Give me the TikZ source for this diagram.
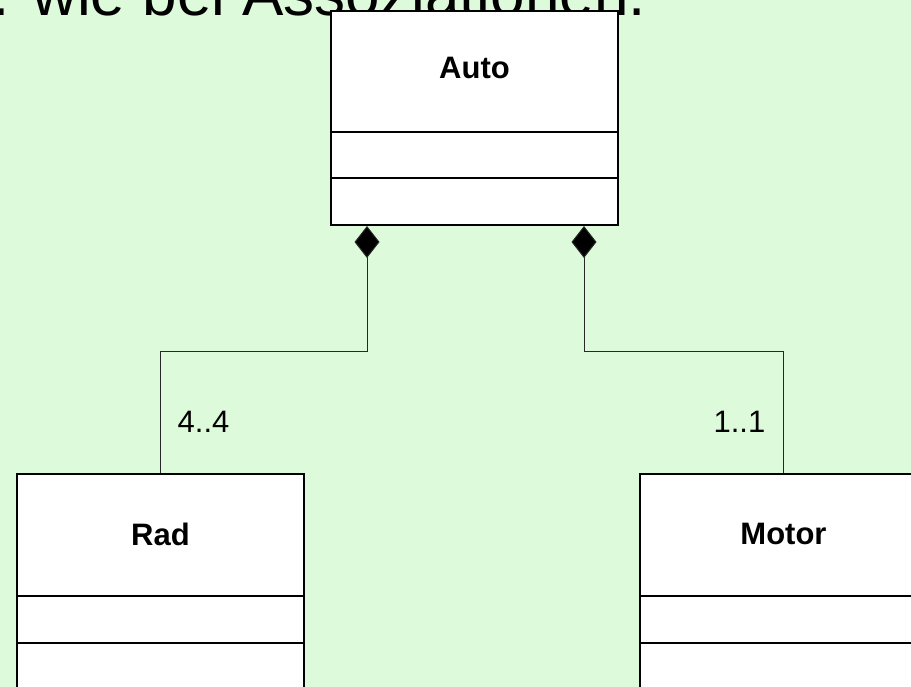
\documentclass[tikz,border=0pt]{standalone}
\usepackage{fontspec}
\setmainfont{Liberation Sans}
\usetikzlibrary{arrows.meta}
\definecolor{bggreen}{RGB}{221,251,219}
\definecolor{connline}{RGB}{40,40,40}
\tikzset{
  classbox/.style={draw=black, line width=2pt, fill=white, minimum width=287pt, inner sep=0pt, anchor=north west},
  classname/.style={font=\bfseries\fontsize{31}{31}\selectfont, inner sep=0pt},
  divider/.style={draw=black, line width=2pt},
  conn/.style={draw=connline, line width=1pt},
  compo/.style={conn, {Diamond[length=32pt,width=25pt,fill=black]}-},
  mult/.style={font=\fontsize{31}{31}\selectfont, inner sep=0pt},
  title/.style={font=\fontsize{62}{62}\selectfont, inner sep=0pt, anchor=base west}
}
\begin{document}
\begin{tikzpicture}[x=1pt,y=-1pt]
\clip (0,0) rectangle (911,687);
\fill[bggreen] (0,0) rectangle (911,687);
\node[title] (head) at (-8,16) {. wie bei Assoziationen.};
% classes
\node[classbox, minimum height=214pt] (auto) at (330,10) {};
\node[classname] (autoname) at ([yshift=-58pt]auto.north) {Auto};
\draw[divider] ([yshift=-122pt]auto.north west) -- ([yshift=-122pt]auto.north east);
\draw[divider] ([yshift=-168pt]auto.north west) -- ([yshift=-168pt]auto.north east);
\node[classbox, minimum height=216pt] (rad) at (16,473) {};
\node[classname] (radname) at ([yshift=-61pt]rad.north) {Rad};
\draw[divider] ([yshift=-123pt]rad.north west) -- ([yshift=-123pt]rad.north east);
\draw[divider] ([yshift=-170pt]rad.north west) -- ([yshift=-170pt]rad.north east);
\node[classbox, minimum height=216pt] (motor) at (639,473) {};
\node[classname] (motorname) at ([yshift=-61pt]motor.north) {Motor};
\draw[divider] ([yshift=-123pt]motor.north west) -- ([yshift=-123pt]motor.north east);
\draw[divider] ([yshift=-170pt]motor.north west) -- ([yshift=-170pt]motor.north east);
% compositions
\draw[compo] ([xshift=37pt]auto.south west) -- ++(0,125) -| (rad.north);
\draw[compo] ([xshift=-35pt]auto.south east) -- ++(0,125) -| (motor.north);
\node[mult, anchor=west] (m1) at ([xshift=17pt,yshift=51pt]rad.north) {4..4};
\node[mult, anchor=east] (m2) at ([xshift=-18pt,yshift=51pt]motor.north) {1..1};
\end{tikzpicture}
\end{document}
